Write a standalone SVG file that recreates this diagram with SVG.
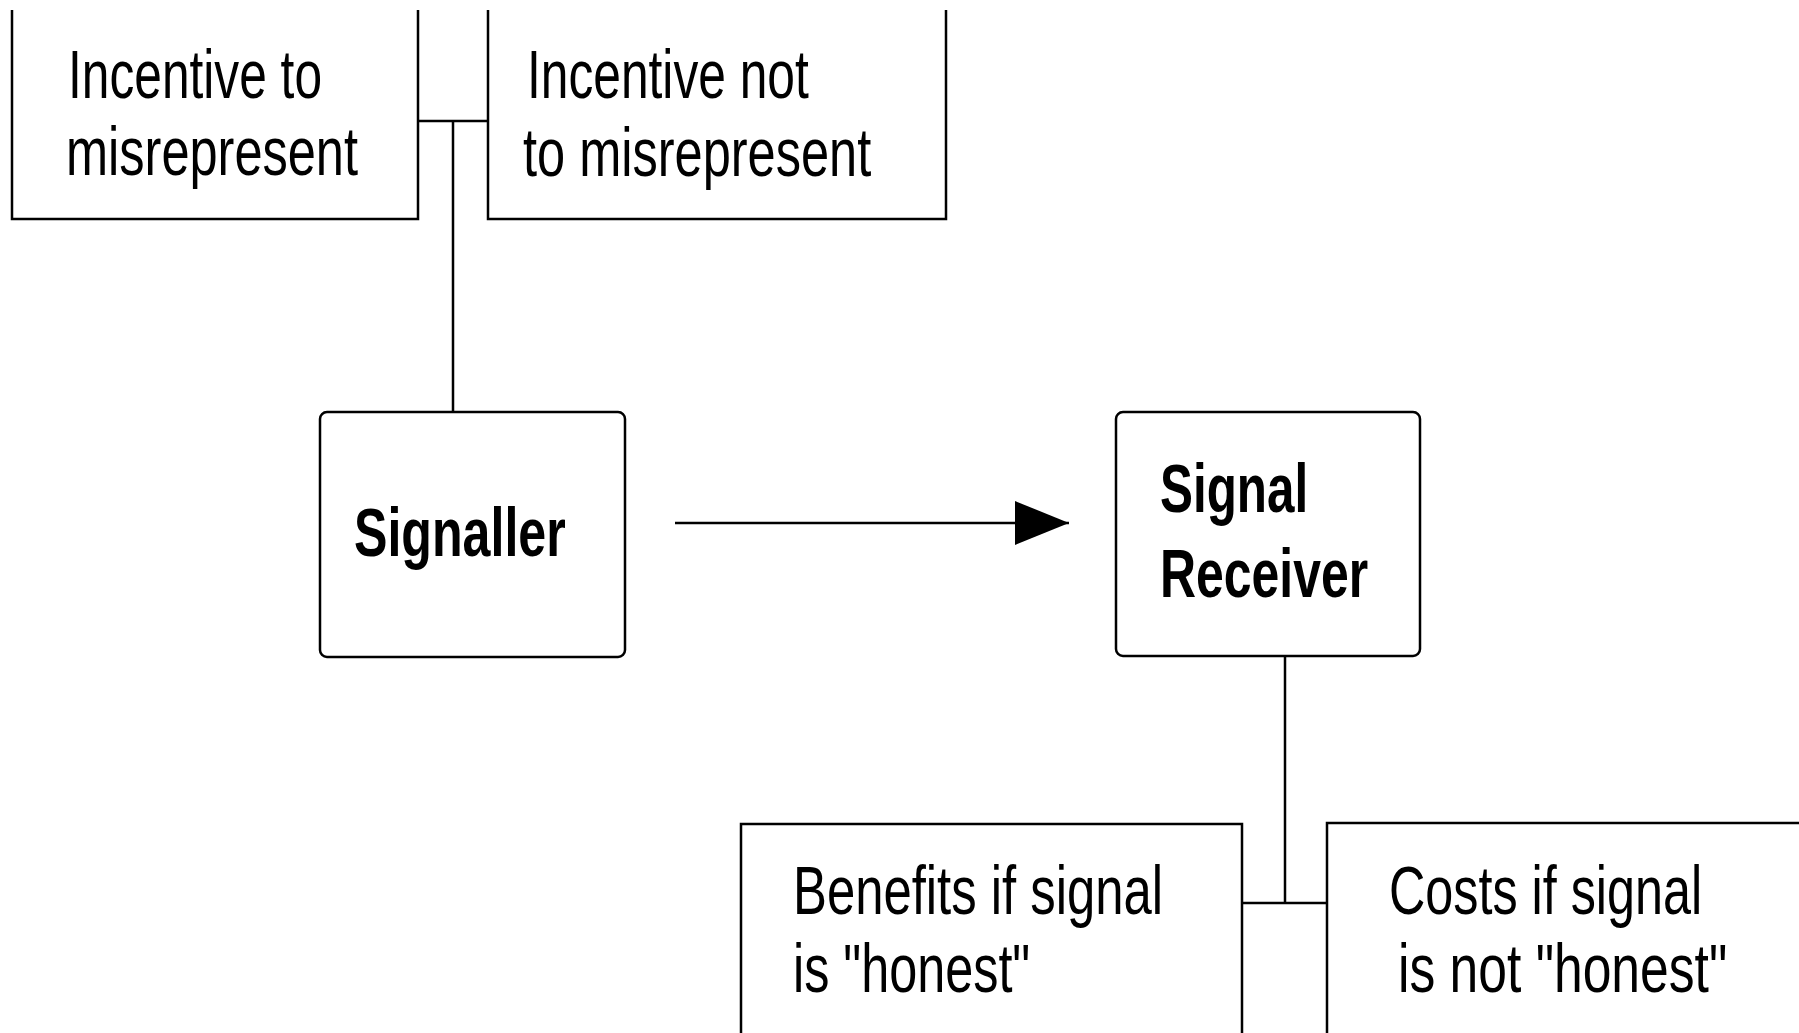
<svg xmlns="http://www.w3.org/2000/svg" width="1799" height="1033" viewBox="0 0 1799 1033">
<style>
  .box { fill: none; stroke: #000; stroke-width: 2.5; }
  .conn { fill: none; stroke: #000; stroke-width: 2.5; }
  .t { font-family: "Liberation Sans", Arial, sans-serif; font-size: 69px; fill: #000; }
  .b { font-weight: bold; }
</style>
<defs>
  <marker id="arr" markerUnits="userSpaceOnUse" markerWidth="56" markerHeight="44" refX="54" refY="22" orient="auto">
    <polygon points="0,0 54,22 0,44" fill="#000"/>
  </marker>
</defs>
<rect width="1799" height="1033" fill="#fff"/>
<g id="connectors">
  <path class="conn" d="M418,121 H488"/>
  <path class="conn" d="M453,121 V412"/>
  <path class="conn" d="M675,523 H1069" stroke-width="3" marker-end="url(#arr)"/>
  <path class="conn" d="M1285,656 V903"/>
  <path class="conn" d="M1242,903 H1327"/>
</g>
<g id="incentive-to">
  <path class="box" d="M12,10 V219 H418 V10"/>
  <text class="t" transform="translate(68,98) scale(0.73,1)" textLength="348" lengthAdjust="spacingAndGlyphs">Incentive to</text>
  <text class="t" transform="translate(66,175) scale(0.73,1)" textLength="400" lengthAdjust="spacingAndGlyphs">misrepresent</text>
</g>
<g id="incentive-not">
  <path class="box" d="M488,10 V219 H946 V10"/>
  <text class="t" transform="translate(527,98) scale(0.73,1)" textLength="386" lengthAdjust="spacingAndGlyphs">Incentive not</text>
  <text class="t" transform="translate(523,176) scale(0.73,1)" textLength="477" lengthAdjust="spacingAndGlyphs">to misrepresent</text>
</g>
<g id="signaller">
  <rect class="box" x="320" y="412" width="305" height="245" rx="7"/>
  <text class="t b" transform="translate(354,556) scale(0.73,1)" textLength="290" lengthAdjust="spacingAndGlyphs">Signaller</text>
</g>
<g id="signal-receiver">
  <rect class="box" x="1116" y="412" width="304" height="244" rx="7"/>
  <text class="t b" transform="translate(1160,512) scale(0.73,1)" textLength="203" lengthAdjust="spacingAndGlyphs">Signal</text>
  <text class="t b" transform="translate(1160,597) scale(0.73,1)" textLength="285" lengthAdjust="spacingAndGlyphs">Receiver</text>
</g>
<g id="benefits">
  <path class="box" d="M741,1033 V824 H1242 V1033"/>
  <text class="t" transform="translate(793,914) scale(0.73,1)" textLength="507" lengthAdjust="spacingAndGlyphs">Benefits if signal</text>
  <text class="t" transform="translate(793,992) scale(0.73,1)" textLength="325" lengthAdjust="spacingAndGlyphs">is "honest"</text>
</g>
<g id="costs">
  <path class="box" d="M1327,1033 V823 H1799"/>
  <text class="t" transform="translate(1389,914) scale(0.73,1)" textLength="429" lengthAdjust="spacingAndGlyphs">Costs if signal</text>
  <text class="t" transform="translate(1398,992) scale(0.73,1)" textLength="451" lengthAdjust="spacingAndGlyphs">is not "honest"</text>
</g>
</svg>
